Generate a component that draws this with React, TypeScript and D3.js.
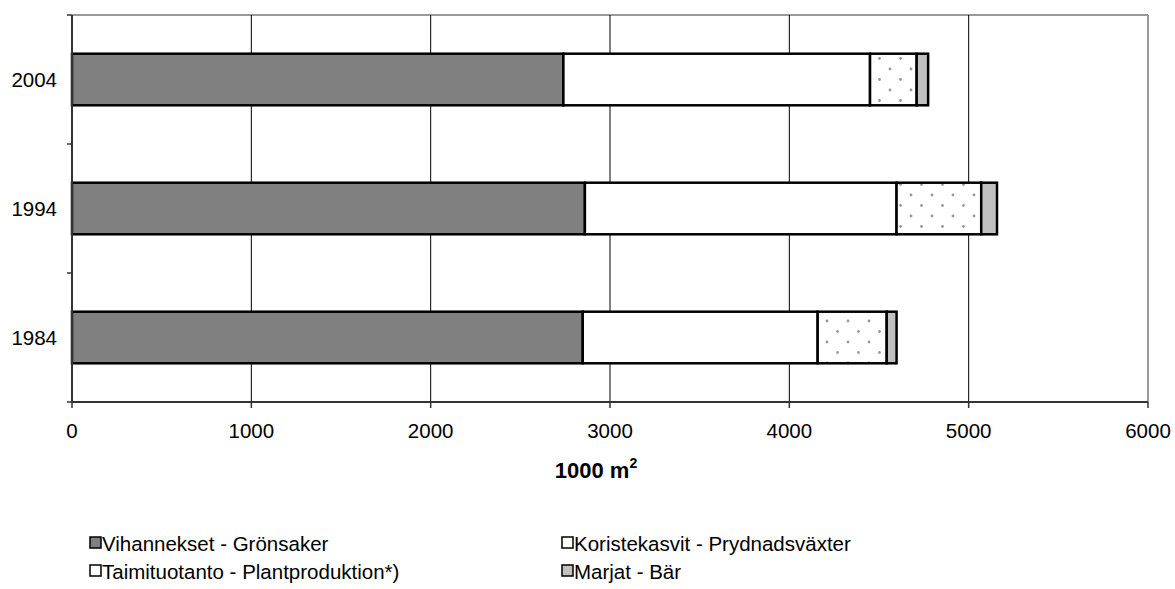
import React from 'react';
import * as d3 from 'd3';

// Years shown on the y axis, top to bottom
const years = ['2004', '1994', '1984'];

// Area by crop group, 1000 m2
const vihannekset = [2740, 2860, 2848];
const koristekasvit = [1710, 1738, 1310];
const taimituotanto = [260, 472, 385];
const marjat = [64, 88, 55];

const seriesNames = [
  'Vihannekset - Grönsaker',
  'Koristekasvit - Prydnadsväxter',
  'Taimituotanto - Plantproduktion*)',
  'Marjat - Bär',
];

const xTicks = [0, 1000, 2000, 3000, 4000, 5000, 6000];

const W = 1175;
const H = 589;
const margin = { left: 72, top: 15, right: 27, bottom: 187 };
const font = '"Liberation Sans", Arial, sans-serif';

const fills = ['#808080', '#ffffff', 'url(#dots)', '#c0c0c0'];

const App: React.FC = () => {
  const plotW = W - margin.left - margin.right;
  const plotH = H - margin.top - margin.bottom;

  const x = d3.scaleLinear().domain([0, 6000]).range([margin.left, margin.left + plotW]);
  const y = d3
    .scaleBand<string>()
    .domain(years)
    .range([margin.top, margin.top + plotH])
    .paddingInner(0.6)
    .paddingOuter(0.3);

  const rows = years.map((yr, i) => ({
    year: yr,
    v: [vihannekset[i], koristekasvit[i], taimituotanto[i], marjat[i]],
  }));
  const stack = d3.stack<{ year: string; v: number[] }>()
    .keys(['0', '1', '2', '3'])
    .value((d, k) => d.v[+k]);
  const stacked = stack(rows);

  const step = y.step();
  const yTickPos = d3.range(years.length + 1).map(i => margin.top + i * step);
  const bottom = margin.top + plotH;
  const right = margin.left + plotW;

  const legend = [
    { i: 0, lx: 90, ly: 543 },
    { i: 1, lx: 562, ly: 543 },
    { i: 2, lx: 90, ly: 571 },
    { i: 3, lx: 562, ly: 571 },
  ];

  return (
    <svg width={W} height={H} style={{ display: 'block', position: 'absolute', left: 0, top: 0 }}>
      <defs>
        <pattern id="dots" width={21} height={21} patternUnits="userSpaceOnUse" x={5} y={3}>
          <rect width={21} height={21} fill="#fff" />
          <circle cx={3} cy={3} r={1.4} fill="#9a9a9a" />
          <circle cx={13.5} cy={13.5} r={1.4} fill="#9a9a9a" />
        </pattern>
      </defs>
      <rect width={W} height={H} fill="#fff" />

      {/* plot frame top/right */}
      <line x1={margin.left} x2={right} y1={margin.top} y2={margin.top} stroke="#999" strokeWidth={2} />
      <line x1={right} x2={right} y1={margin.top} y2={bottom} stroke="#999" strokeWidth={2} />

      {/* vertical gridlines */}
      {xTicks.slice(1, -1).map(t => (
        <line key={t} x1={x(t)} x2={x(t)} y1={margin.top} y2={bottom} stroke="#000" strokeWidth={1} />
      ))}

      {/* bars */}
      {stacked.map((s, si) =>
        s.map(d => (
          <rect
            key={si + d.data.year}
            x={x(d[0])}
            y={y(d.data.year)}
            width={x(d[1]) - x(d[0])}
            height={y.bandwidth()}
            fill={fills[si]}
            stroke="#000"
            strokeWidth={2.5}
          />
        ))
      )}

      {/* axes */}
      <line x1={margin.left} x2={margin.left} y1={margin.top} y2={bottom} stroke="#333" strokeWidth={2} />
      <line x1={margin.left} x2={right} y1={bottom} y2={bottom} stroke="#333" strokeWidth={2} />
      {yTickPos.map(p => (
        <line key={p} x1={margin.left - 5} x2={margin.left} y1={p} y2={p} stroke="#333" strokeWidth={1.5} />
      ))}
      {xTicks.map(t => (
        <line key={t} x1={x(t)} x2={x(t)} y1={bottom} y2={bottom + 6} stroke="#333" strokeWidth={1.5} />
      ))}

      {/* tick labels */}
      {xTicks.map(t => (
        <text key={t} x={x(t)} y={bottom + 36} textAnchor="middle" fontFamily={font} fontSize={20.5} fill="#000">
          {t}
        </text>
      ))}
      {years.map(yr => (
        <text
          key={yr}
          x={margin.left - 15}
          y={(y(yr) ?? 0) + y.bandwidth() / 2 + 7.5}
          textAnchor="end"
          fontFamily={font}
          fontSize={20.5}
          fill="#000"
        >
          {yr}
        </text>
      ))}

      {/* axis title */}
      <text x={596} y={478} textAnchor="middle" fontFamily={font} fontSize={22} fontWeight="bold">
        1000 m<tspan dy={-10} fontSize={14}>2</tspan>
      </text>

      {/* legend */}
      {legend.map(l => (
        <g key={l.i}>
          <rect x={l.lx} y={l.ly - 6} width={11} height={11} fill={l.i === 2 ? '#fff' : fills[l.i]} stroke="#000" strokeWidth={1.5} />
          <text x={l.lx + 12} y={l.ly + 7.5} fontFamily={font} fontSize={20.5} fill="#000">
            {seriesNames[l.i]}
          </text>
        </g>
      ))}
    </svg>
  );
};

export default App;
